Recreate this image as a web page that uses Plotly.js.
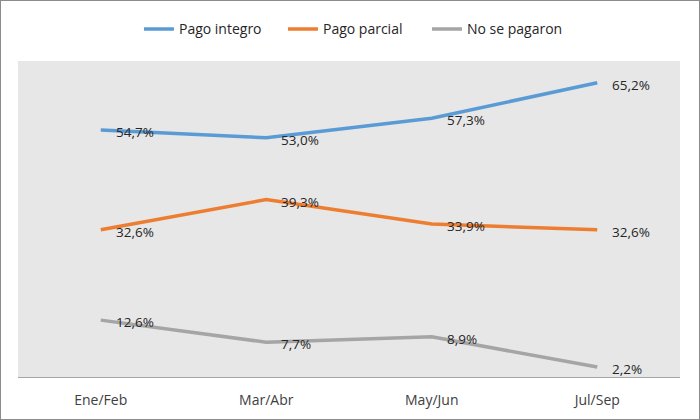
<!DOCTYPE html>
<html lang="es">
  <head>
    <meta charset="utf-8">
    <title>Pagos</title>
    <script src="https://cdn.plot.ly/plotly-3.0.1.min.js" charset="utf-8"></script>
    <style>
      body { margin:0; }
      #plot { width:700px; height:420px; box-sizing:border-box; border:1px solid #8c8c8c; }
    </style>
  </head>
  <body>
    <div id="plot"></div>
    <script type="text/javascript">
      const FONT = "Open Sans, sans-serif";

      const periodos = ['Ene/Feb', 'Mar/Abr', 'May/Jun', 'Jul/Sep'];
      const pagoIntegro = [54.7, 53.0, 57.3, 65.2];
      const pagoParcial = [32.6, 39.3, 33.9, 32.6];
      const noSePagaron = [12.6, 7.7, 8.9, 2.2];

      const series = [
        {name: 'Pago integro', values: pagoIntegro, color: '#5B9BD5'},
        {name: 'Pago parcial', values: pagoParcial, color: '#ED7D31'},
        {name: 'No se pagaron', values: noSePagaron, color: '#A5A5A5'}
      ];

      let fmt = v => v.toFixed(1).replace('.', ',') + '%';

      let traces = series.map(s => ({
        x: periodos,
        y: s.values,
        name: s.name,
        type: 'scatter',
        mode: 'lines',
        line: {color: s.color, width: 3.5},
        hoverinfo: 'skip'
      }));

      // data labels sit just right of each point
      let annotations = [];
      for (let s of series) {
        s.values.forEach((v, i) => {
          annotations.push({
            x: periodos[i], y: v, text: fmt(v),
            showarrow: false, xanchor: 'left', yanchor: 'middle',
            xshift: 13, yshift: -2,
            font: {family: FONT, size: 13.5, color: '#262626'}
          });
        });
      }

      let layout = {
        width: 698, height: 418,
        margin: {l: 17, r: 19, t: 56, b: 42},
        paper_bgcolor: 'white',
        plot_bgcolor: '#E7E7E7',
        font: {family: FONT, size: 14, color: '#404040'},
        showlegend: true,
        legend: {
          orientation: 'h', x: 0.509, xanchor: 'center', y: 1.1, yanchor: 'middle',
          entrywidth: 99, entrywidthmode: 'pixels',
          font: {family: FONT, size: 14, color: '#262626'}
        },
        xaxis: {
          type: 'category', range: [-0.5, 3.5],
          showgrid: false, zeroline: false,
          showline: true, linecolor: '#A6A6A6', linewidth: 1,
          ticks: '', ticklabelstandoff: 10,
          tickfont: {family: FONT, size: 14, color: '#404040'}
        },
        yaxis: {
          range: [0, 70], visible: false, showgrid: false, zeroline: false
        },
        annotations: annotations
      };

      Plotly.newPlot(document.getElementById('plot'), traces, layout, {displayModeBar: false});
    </script>
  </body>
</html>
